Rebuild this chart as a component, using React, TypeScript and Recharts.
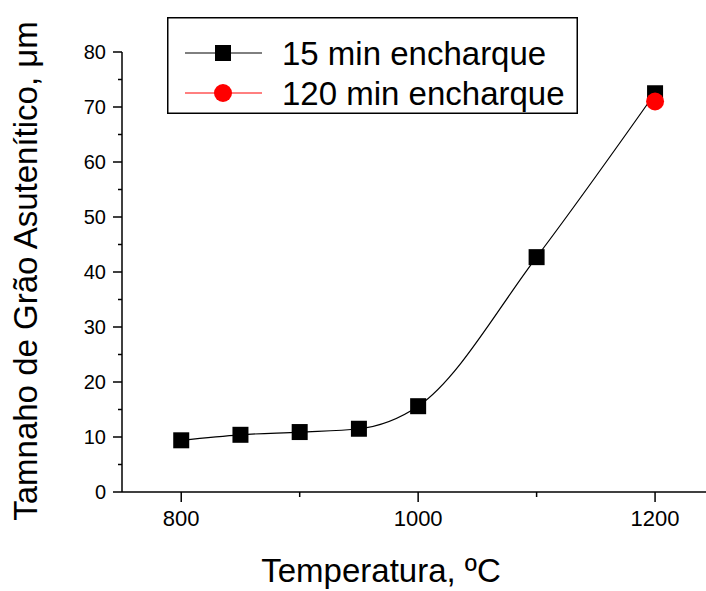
import { LineChart, Line, XAxis, YAxis, Legend, Label } from 'recharts';

const temps = [800, 850, 900, 950, 1000, 1100, 1200];
const grain15 = [9.4, 10.4, 10.9, 11.5, 15.6, 42.7, 72.5];
const temps120 = [1200];
const grain120 = [71.0];

const xTicks = [800, 900, 1000, 1100, 1200];
const xLabeled = [800, 1000, 1200];
const yTicks = [0, 5, 10, 15, 20, 25, 30, 35, 40, 45, 50, 55, 60, 65, 70, 75, 80];
const yLabeled = [0, 10, 20, 30, 40, 50, 60, 70, 80];

const FONT = '"Liberation Sans", Arial, sans-serif';

const data15 = temps.map((t, i) => ({ t, v: grain15[i] }));
const data120 = temps120.map((t, i) => ({ t, v: grain120[i] }));

function XTick({ x, y, payload }: any) {
  const major = xLabeled.includes(payload.value);
  return (
    <g>
      <line x1={x} x2={x} y1={y} y2={y + (major ? 10 : 5)} stroke="#000" strokeWidth={1.5} />
      {major && (
        <text x={x} y={y + 34} textAnchor="middle" fontSize={22} fontFamily={FONT} fill="#000">
          {payload.value}
        </text>
      )}
    </g>
  );
}

function YTick({ x, y, payload }: any) {
  const major = yLabeled.includes(payload.value);
  return (
    <g>
      <line x1={x} x2={x - (major ? 9 : 4)} y1={y} y2={y} stroke="#000" strokeWidth={1.5} />
      {major && (
        <text x={x - 16} y={y + 7} textAnchor="end" fontSize={20} fontFamily={FONT} fill="#000">
          {payload.value}
        </text>
      )}
    </g>
  );
}

function SquareDot({ cx, cy, index }: any) {
  return <rect key={'sq' + index} x={cx - 8} y={cy - 8} width={16} height={16} fill="#000" />;
}

function LegendBox() {
  return (
    <svg width={411} height={97} style={{ display: 'block' }}>
      <rect x={0.75} y={0.75} width={409.5} height={95.5} fill="#fff" stroke="#000" strokeWidth={1.5} />
      <line x1={18} x2={95} y1={36} y2={36} stroke="#000" strokeWidth={1} />
      <rect x={48} y={28} width={16} height={16} fill="#000" />
      <text x={115} y={48} fontSize={33} fontFamily={FONT} fill="#000">15 min encharque</text>
      <line x1={18} x2={95} y1={76} y2={76} stroke="#ff0000" strokeWidth={1} />
      <circle cx={56} cy={76} r={9} fill="#ff0000" />
      <text x={115} y={88} fontSize={33} fontFamily={FONT} fill="#000">120 min encharque</text>
    </svg>
  );
}

export default function App() {
  return (
    <div style={{ position: 'absolute', left: 0, top: 0, background: '#fff' }}>
      <LineChart width={706} height={591} margin={{ top: 52, right: 0, bottom: 0, left: 0 }}>
        <XAxis
          type="number"
          dataKey="t"
          domain={[750, 1243]}
          ticks={xTicks}
          allowDataOverflow
          height={99}
          tickSize={0}
          tickMargin={0}
          tick={<XTick />}
          axisLine={{ stroke: '#000', strokeWidth: 1.5 }}
        >
          <Label
            content={() => (
              <text x={381} y={582} textAnchor="middle" fontSize={33} fontFamily={FONT} fill="#000">
                Temperatura, ºC
              </text>
            )}
          />
        </XAxis>
        <YAxis
          type="number"
          dataKey="v"
          domain={[0, 80]}
          ticks={yTicks}
          width={122}
          tickSize={0}
          tickMargin={0}
          tick={<YTick />}
          axisLine={{ stroke: '#000', strokeWidth: 1.5 }}
        >
          <Label
            content={() => (
              <text
                x={37}
                y={271}
                transform="rotate(-90, 37, 271)"
                textAnchor="middle"
                fontSize={33}
                fontFamily={FONT}
                fill="#000"
              >
                Tamnaho de Grão Asutenítico, μm
              </text>
            )}
          />
        </YAxis>
        <Legend
          layout="horizontal"
          verticalAlign="middle"
          align="center"
          wrapperStyle={{ position: 'absolute', left: 167, top: 17, width: 411, height: 97 }}
          content={() => <LegendBox />}
        />
        <Line
          data={data15}
          dataKey="v"
          type="monotone"
          stroke="#000"
          strokeWidth={1.2}
          dot={<SquareDot />}
          activeDot={false}
          isAnimationActive={false}
        />
        <Line
          data={data120}
          dataKey="v"
          type="monotone"
          stroke="#ff0000"
          strokeWidth={1}
          dot={{ r: 9, fill: '#ff0000', stroke: 'none' }}
          activeDot={false}
          isAnimationActive={false}
        />
      </LineChart>
    </div>
  );
}
